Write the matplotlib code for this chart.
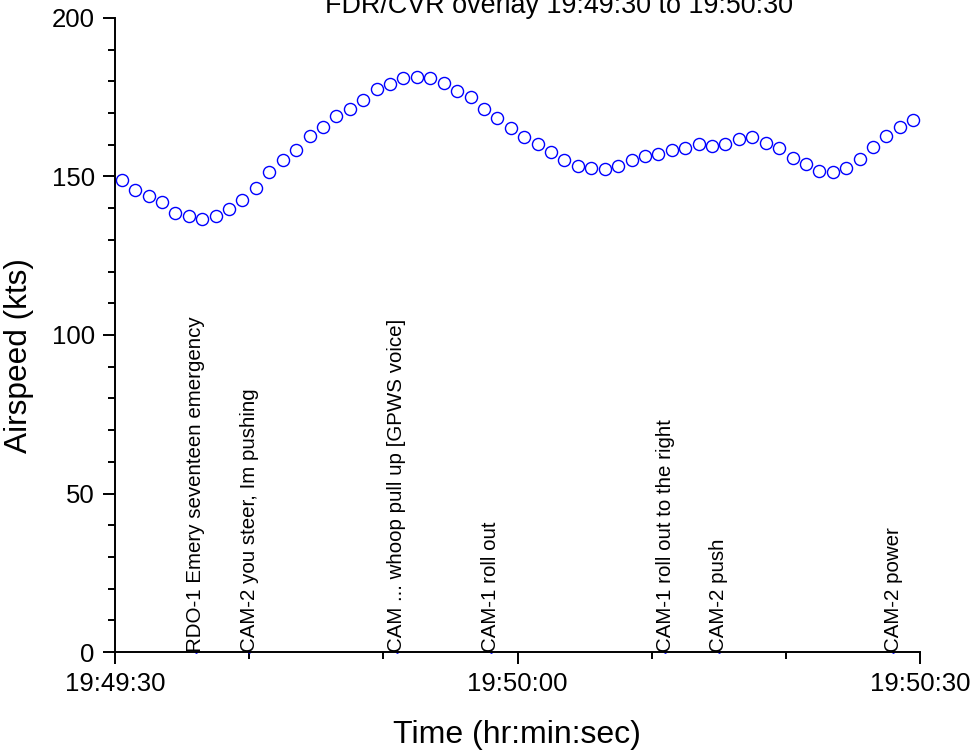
import matplotlib
matplotlib.use("Agg")
import matplotlib.pyplot as plt
from matplotlib.ticker import MultipleLocator

plt.rcParams["font.family"] = ["Liberation Sans", "DejaVu Sans"]

# seconds after 19:49:30
time_s = [-0.5] + [i + 0.5 for i in range(60)]
airspeed = [
    153.0,
    148.9, 145.7, 143.9, 141.9, 138.4, 137.6, 136.5, 137.6, 139.8, 142.7,
    146.4, 151.5, 155.2, 158.3, 162.7, 165.7, 169.0, 171.4, 174.2, 177.5,
    179.2, 181.1, 181.5, 181.1, 179.6, 177.1, 175.1, 171.4, 168.4, 165.2,
    162.6, 160.4, 157.7, 155.3, 153.4, 152.7, 152.3, 153.4, 155.2, 156.6,
    157.1, 158.3, 159.0, 160.3, 159.7, 160.3, 161.9, 162.5, 160.5, 158.9,
    155.9, 153.9, 151.7, 151.5, 152.8, 155.5, 159.3, 162.7, 165.5, 167.8,
]

event_times = [6, 10, 21, 28, 41, 45, 58]
event_texts = [
    "RDO-1 Emery seventeen emergency",
    "CAM-2 you steer, Im pushing",
    "CAM ... whoop pull up [GPWS voice]",
    "CAM-1 roll out",
    "CAM-1 roll out to the right",
    "CAM-2 push",
    "CAM-2 power",
]

xtick_pos = [0, 30, 60]
xtick_labels = ["19:49:30", "19:50:00", "19:50:30"]

W, H = 974, 750
fig = plt.figure(figsize=(W / 100, H / 100), dpi=100)
ax = fig.add_axes([115 / W, 1 - 652 / H, 805 / W, 634 / H])

ax.plot(time_s, airspeed, linestyle="none", marker="o", markersize=8.7,
        markerfacecolor="none", markeredgecolor="blue", markeredgewidth=1.0)

for t, label in zip(event_times, event_texts):
    ax.plot(t, 0, marker=".", markersize=2, color="blue", clip_on=False)
    ax.text(t, 0, label, rotation=90, ha="center", va="bottom", fontsize=14.8)

ax.set_xlim(0, 60)
ax.set_ylim(0, 200)
ax.set_xticks(xtick_pos)
ax.set_xticklabels(xtick_labels)
ax.xaxis.set_minor_locator(MultipleLocator(10))
ax.yaxis.set_major_locator(MultipleLocator(50))
ax.yaxis.set_minor_locator(MultipleLocator(10))

for side in ["top", "right"]:
    ax.spines[side].set_visible(False)
for side in ["left", "bottom"]:
    ax.spines[side].set_linewidth(1.4)

ax.tick_params(which="major", length=8.6, width=1.4, labelsize=18.5, pad=6)
ax.tick_params(which="minor", length=5, width=1.4)

fig.text(559 / W, 1 - 13 / H, "FDR/CVR overlay 19:49:30 to 19:50:30",
         ha="center", va="baseline", fontsize=19.4)
fig.text(19 / W, 1 - 356 / H, "Airspeed (kts)", rotation=90,
         ha="center", va="center", fontsize=22.8)
fig.text(517 / W, 1 - 743 / H, "Time (hr:min:sec)",
         ha="center", va="baseline", fontsize=23)

fig.savefig("out.png", dpi=100)
